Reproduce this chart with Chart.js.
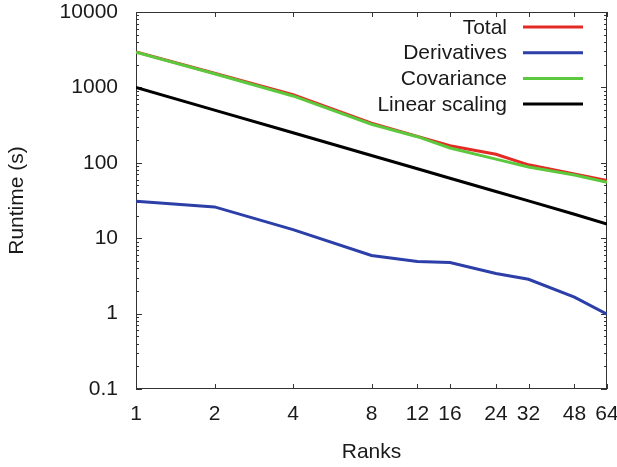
<!DOCTYPE html>
<html>
<head>
<meta charset="utf-8">
<script src="https://cdn.jsdelivr.net/npm/chart.js@4/dist/chart.umd.min.js"></script>
<style>
  html, body { margin: 0; padding: 0; background: #fff; }
  canvas { display: block; }
</style>
</head>
<body>
<canvas id="chart" width="617" height="467"></canvas>
<script>
const ranks = [1, 2, 4, 8, 12, 16, 24, 32, 48, 64]
const total = [2950, 1540, 800, 335, 224, 168, 130, 94, 71, 58]
const derivatives = [31, 26, 13, 5.9, 4.9, 4.75, 3.4, 2.85, 1.65, 0.98]
const covariance = [2930, 1520, 770, 325, 222, 157, 112, 88, 69, 55]
const linearScaling = [1000, 500, 250, 125, 83.3, 62.5, 41.7, 31.25, 20.8, 15.4]
const yTicks = [0.1, 1, 10, 100, 1000, 10000]

const FONT = "'Liberation Sans', Arial, Helvetica, sans-serif"
const TEXT = '#1a1a1a'
const AXIS = '#333'

function points(values) {
  return ranks.map((r, i) => ({ x: r, y: values[i] }))
}

function series(label, values, color, order) {
  return {
    label: label,
    data: points(values),
    borderColor: color,
    backgroundColor: color,
    borderWidth: 3,
    pointRadius: 0,
    tension: 0,
    order: order
  }
}

// gnuplot-like box with inward ticks and a right-aligned legend
const frame = {
  id: 'frame',
  beforeDatasetsDraw(chart) {
    const { ctx, chartArea: a, scales: { x, y } } = chart
    ctx.save()
    ctx.strokeStyle = AXIS
    ctx.lineWidth = 1
    ctx.strokeRect(a.left + 0.5, a.top + 0.5, a.right - a.left - 1, a.bottom - a.top - 1)
    ctx.beginPath()
    ranks.forEach(r => {
      const px = Math.round(x.getPixelForValue(r)) + 0.5
      ctx.moveTo(px, a.bottom); ctx.lineTo(px, a.bottom - 5)
      ctx.moveTo(px, a.top); ctx.lineTo(px, a.top + 5)
    })
    for (let d = -1; d < 4; d++) {
      for (let m = 1; m < 10; m++) {
        const v = m * Math.pow(10, d)
        const len = m === 1 ? 6 : 3
        const py = Math.round(y.getPixelForValue(v)) + 0.5
        ctx.moveTo(a.left, py); ctx.lineTo(a.left + len, py)
        ctx.moveTo(a.right, py); ctx.lineTo(a.right - len, py)
      }
    }
    ctx.stroke()
    ctx.restore()
  },
  afterDraw(chart) {
    const { ctx } = chart
    ctx.save()
    ctx.font = '21px ' + FONT
    ctx.textAlign = 'right'
    ctx.textBaseline = 'middle'
    chart.data.datasets.forEach((ds, i) => {
      const ly = 27 + i * 25.7
      ctx.fillStyle = TEXT
      ctx.fillText(ds.label, 507, ly + 1)
      ctx.strokeStyle = ds.borderColor
      ctx.lineWidth = 3
      ctx.beginPath()
      ctx.moveTo(523, ly); ctx.lineTo(583, ly)
      ctx.stroke()
    })
    ctx.restore()
  }
}

new Chart(document.getElementById('chart'), {
  type: 'line',
  data: {
    datasets: [
      series('Total', total, '#e42a25', 2),
      series('Derivatives', derivatives, '#2c3ea8', 1),
      series('Covariance', covariance, '#5cc83e', 0),
      series('Linear scaling', linearScaling, '#000000', 0)
    ]
  },
  options: {
    responsive: false,
    animation: false,
    devicePixelRatio: 1,
    layout: { padding: { top: 12, right: 10, left: 0, bottom: 0 } },
    plugins: {
      legend: { display: false },
      tooltip: { enabled: false }
    },
    scales: {
      x: {
        type: 'logarithmic',
        min: 1,
        max: 64,
        border: { display: false },
        grid: { display: false, drawTicks: false },
        afterBuildTicks: s => { s.ticks = ranks.map(v => ({ value: v })) },
        afterFit: s => { s.height = 78; s.paddingLeft = 0; s.paddingRight = 0 },
        ticks: {
          autoSkip: false,
          maxRotation: 0,
          padding: 13,
          color: TEXT,
          font: { family: FONT, size: 21 },
          callback: v => String(v)
        },
        title: {
          display: true,
          text: 'Ranks',
          color: TEXT,
          font: { family: FONT, size: 21 },
          padding: { top: 0, bottom: 2 }
        }
      },
      y: {
        type: 'logarithmic',
        min: 0.1,
        max: 10000,
        border: { display: false },
        grid: { display: false, drawTicks: false },
        afterBuildTicks: s => { s.ticks = yTicks.map(v => ({ value: v })) },
        afterFit: s => { s.width = 136; s.paddingTop = 0; s.paddingBottom = 0 },
        ticks: {
          autoSkip: false,
          padding: 18,
          color: TEXT,
          font: { family: FONT, size: 21 },
          callback: v => String(v)
        },
        title: {
          display: true,
          text: 'Runtime (s)',
          color: TEXT,
          font: { family: FONT, size: 21 },
          padding: { top: 5, bottom: 0 }
        }
      }
    }
  },
  plugins: [frame]
})
</script>
</body>
</html>
